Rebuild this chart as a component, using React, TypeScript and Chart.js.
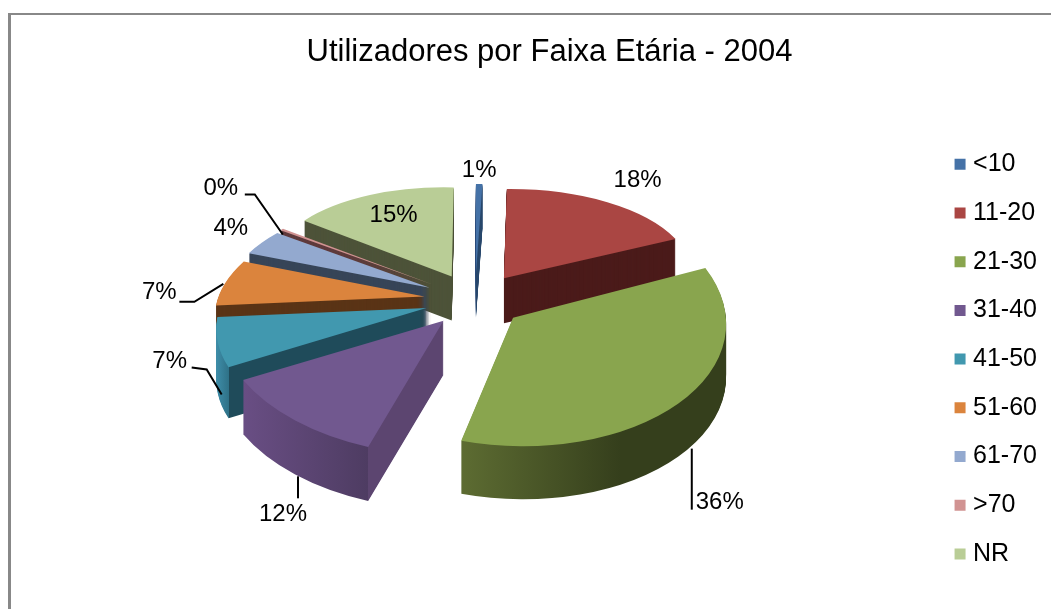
import React, { useEffect, useRef } from "react";
import { Chart, registerables } from "chart.js";

Chart.register(...registerables);

const TITLE = "Utilizadores por Faixa Etária - 2004";
const categories = ["<10", "11-20", "21-30", "31-40", "41-50", "51-60", "61-70", ">70", "NR"];
const shares = [0.6, 18, 36, 12, 7, 7, 4, 0.3, 15.1];
const explode = [51, 51, 51, 51, 51, 51, 51, 51, 51];
const topColors = ["#4572a7", "#aa4643", "#89a54e", "#71588f", "#4198af", "#db843d", "#93a9cf", "#d19392", "#b9cd96"];
const innerWallColors = ["#2b4a70", "#4b1b1a", "#36401d", "#5c4570", "#1f4b5a", "#5a3416", "#374558", "#5f3a3c", "#4d5339"];
// Curved outer wall shading [left, right], where that wall is in view
const outerWallColors: (string[] | null)[] = [null, null, ["#5d6c32", "#353f1c"], ["#694e84", "#4e3c62"], ["#3e8da8", "#2f7288"], null, null, null, null];
// Label placement relative to the outer middle of each slice: [dx, dy]
const labelNudges = [[0, -14], [33, -22], [30, 103], [-10, 94], [-48, 19], [-66, 10], [-31, -14], [-61, -41], [22, 20]];
// Leader lines relative to the same point
const leaderNudges: number[][][] = [
  [],
  [],
  [[2, 49], [2, 110]],
  [[5, 56], [5, 78]],
  [[-26, 25], [-11, 27], [4, 52]],
  [[-46, 19], [-31, 19], [-2, 1]],
  [],
  [[-37, -35], [-27, -35], [1, 5]],
  [],
];

// Camera: a unit circle (X, Y) seen in perspective, Y growing towards the viewer
const PIE_X = 475;
const PIE_Y = 300;
const EXPLODE_TILT = 0.52;
const VIEW_X = 206;
const VIEW_Y = 107;
const VIEW_P = 0.196;
const THICKNESS = 49;
const BASE_RADIUS = 205;
const FONT = '"Liberation Sans", Arial, sans-serif';

const project = (X: number, Y: number) => {
  const w = 1 - VIEW_P * Y;
  return [(VIEW_X * X) / w, (VIEW_Y * Y) / w];
};

// Best flat transform for a slice: least squares on points along its rim
const fitSlice = (start: number, end: number) => {
  const pts: number[][] = [];
  const n = 8;
  for (let k = 0; k <= n; k++) {
    const a = start + ((end - start) * k) / n;
    const X = Math.cos(a);
    const Y = Math.sin(a);
    const [sx, sy] = project(X, Y);
    pts.push([X, Y, sx, sy]);
  }
  let xx = 0, xy = 0, yy = 0, xu = 0, yu = 0, xv = 0, yv = 0;
  for (const [X, Y, u, v] of pts) {
    xx += X * X; xy += X * Y; yy += Y * Y;
    xu += X * u; yu += Y * u; xv += X * v; yv += Y * v;
  }
  // Small ridge keeps very thin slices well behaved
  const [mx, my] = [Math.cos((start + end) / 2), Math.sin((start + end) / 2)];
  const [mu, mv] = project(mx, my);
  const perp = [-my, mx];
  const ridge = 0.02;
  const [pu, pv] = (() => {
    const e = 0.01;
    const a = project(mx + perp[0] * e, my + perp[1] * e);
    return [(a[0] - mu) / e, (a[1] - mv) / e];
  })();
  xx += ridge * perp[0] * perp[0]; xy += ridge * perp[0] * perp[1]; yy += ridge * perp[1] * perp[1];
  xu += ridge * perp[0] * pu; yu += ridge * perp[1] * pu;
  xv += ridge * perp[0] * pv; yv += ridge * perp[1] * pv;
  const det = xx * yy - xy * xy;
  return {
    a: (xu * yy - yu * xy) / det,
    b: (yu * xx - xu * xy) / det,
    c: (xv * yy - yv * xy) / det,
    d: (yv * xx - xv * xy) / det,
  };
};

const pie3d = {
  id: "pie3d",
  afterLayout(chart: any) {
    chart.legend.left = chart.width - chart.legend.width - 4;
  },
  beforeDatasetDraw(chart: any) {
    const ctx = chart.ctx;
    const arcs: any[] = chart.getDatasetMeta(0).data;
    const total = shares.reduce((a, b) => a + b, 0);
    const items = arcs.map((arc, i) => {
      const mid = (arc.startAngle + arc.endAngle) / 2;
      const dx = Math.cos(mid);
      const dy = Math.sin(mid);
      const tipX = PIE_X + explode[i] * dx;
      const tipY = PIE_Y + explode[i] * dy * EXPLODE_TILT;
      const fit = fitSlice(arc.startAngle, arc.endAngle);
      const [rimX, rimY] = project(dx, dy);
      return { arc, i, dx, dy, tipX, tipY, fit, rimX, rimY, depth: THICKNESS / (1 - 0.12 * dy) };
    });
    const order = [...items].sort((a, b) => a.dy - b.dy);

    const drawAt = (it: any, color: any, shift: number) => {
      const { arc, fit } = it;
      const saved = arc.options;
      arc.options = {
        backgroundColor: color,
        borderColor: color,
        borderWidth: 0,
        offset: 0,
        spacing: 0,
        borderAlign: "center",
        borderRadius: 0,
        borderJoinStyle: "round",
        borderDash: [],
        borderDashOffset: 0,
        circular: true,
      };
      ctx.save();
      ctx.translate(it.tipX, it.tipY + shift);
      ctx.transform(fit.a / BASE_RADIUS, fit.c / BASE_RADIUS, fit.b / BASE_RADIUS, fit.d / BASE_RADIUS, 0, 0);
      ctx.translate(-arc.x, -arc.y);
      arc.draw(ctx);
      ctx.restore();
      arc.options = saved;
    };

    for (const it of order) {
      const { arc, i, fit } = it;
      let side: any = innerWallColors[i];
      const wall = outerWallColors[i];
      if (wall) {
        // A gradient in the slice's own space whose bands stand upright on screen
        const nx = fit.a / BASE_RADIUS;
        const ny = fit.b / BASE_RADIUS;
        const nn = nx * nx + ny * ny;
        const at = (s: number) => [arc.x + (nx * s) / nn, arc.y + (ny * s) / nn];
        const screenX = (a: number) => fit.a * Math.cos(a) + fit.b * Math.sin(a);
        const samples: number[] = [];
        for (let k = 0; k <= 24; k++) samples.push(screenX(arc.startAngle + ((arc.endAngle - arc.startAngle) * k) / 24));
        const s0 = Math.min(...samples);
        const s1 = Math.max(...samples);
        const front = Math.sin(arc.startAngle) > Math.sin(arc.endAngle) ? screenX(arc.startAngle) : screenX(arc.endAngle);
        const [x0, y0] = at(s0);
        const [x1, y1] = at(s1);
        const g = ctx.createLinearGradient(x0, y0, x1, y1);
        g.addColorStop(0, wall[0]);
        if (it.dx < 0) {
          const f = Math.min(0.998, Math.max(0.001, (front - s0) / (s1 - s0)));
          g.addColorStop(f, wall[1]);
          g.addColorStop(f + 0.001, innerWallColors[i]);
          g.addColorStop(1, innerWallColors[i]);
        } else {
          g.addColorStop(0.6, wall[1]);
          g.addColorStop(1, wall[1]);
        }
        side = g;
      }
      for (let d = Math.round(it.depth); d >= 1; d--) drawAt(it, side, d);
      drawAt(it, topColors[i], 0);
    }

    ctx.save();
    ctx.font = `24px ${FONT}`;
    ctx.textAlign = "center";
    ctx.textBaseline = "middle";
    ctx.fillStyle = "#000";
    ctx.strokeStyle = "#000";
    ctx.lineWidth = 2;
    for (const it of items) {
      const ax = it.tipX + it.rimX;
      const ay = it.tipY + it.rimY;
      const leader = leaderNudges[it.i];
      if (leader.length) {
        ctx.beginPath();
        leader.forEach(([x, y], k) => (k ? ctx.lineTo(ax + x, ay + y) : ctx.moveTo(ax + x, ay + y)));
        ctx.stroke();
      }
      const [nx, ny] = labelNudges[it.i];
      ctx.fillText(`${Math.round((shares[it.i] / total) * 100)}%`, ax + nx, ay + ny);
    }
    ctx.restore();
    return false;
  },
};

export default function App() {
  const ref = useRef<HTMLCanvasElement>(null);
  useEffect(() => {
    document.documentElement.style.overflow = "hidden";
    document.body.style.margin = "0";
    const chart = new Chart(ref.current as HTMLCanvasElement, {
      type: "pie",
      data: {
        labels: categories,
        datasets: [
          {
            data: shares,
            backgroundColor: topColors,
            offset: explode,
            borderWidth: 0,
            radius: BASE_RADIUS,
          } as any,
        ],
      },
      options: {
        responsive: false,
        animation: false,
        layout: { padding: { left: 48 } },
        plugins: {
          title: {
            display: true,
            text: TITLE,
            color: "#000",
            font: { family: FONT, size: 31, weight: "normal" },
            padding: { top: 34, bottom: 38 },
          },
          legend: {
            position: "right",
            fullSize: false,
            labels: {
              color: "#000",
              font: { family: FONT, size: 25 },
              usePointStyle: true,
              pointStyle: "rect",
              boxWidth: 1,
              boxHeight: 11,
              padding: 23.7,
            },
          },
          tooltip: { enabled: false },
        },
      },
      plugins: [pie3d],
    } as any);
    return () => chart.destroy();
  }, []);
  return (
    <div style={{ position: "absolute", left: 0, top: 0, width: 1051, height: 609, background: "#fff", overflow: "hidden" }}>
      <canvas ref={ref} width={1051} height={609} style={{ position: "absolute", left: 0, top: 0 }} />
      <div
        style={{
          position: "absolute",
          left: 8,
          top: 13,
          right: 0,
          bottom: 0,
          borderLeft: "3px solid #888",
          borderTop: "2px solid #888",
          pointerEvents: "none",
        }}
      />
    </div>
  );
}
